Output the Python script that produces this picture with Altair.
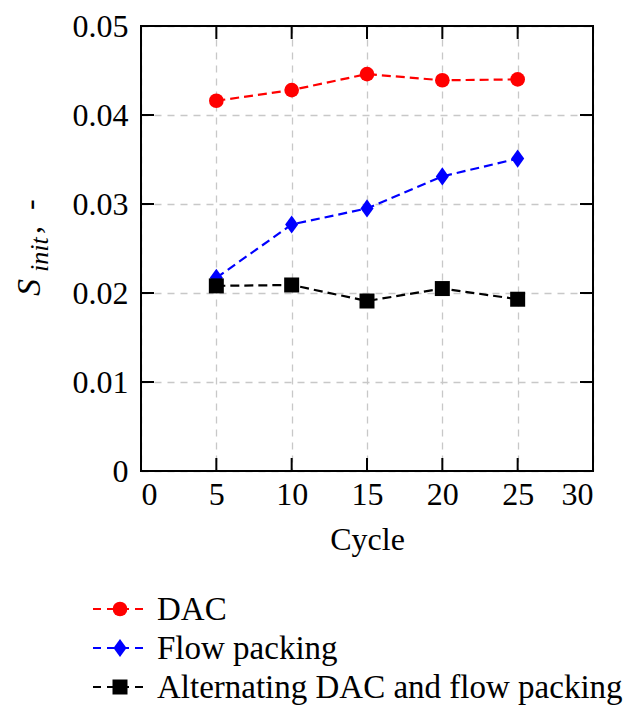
import altair as alt
import pandas as pd

# ---- data ----
cycles = [5, 10, 15, 20, 25]
series_names = ["DAC", "Flow packing", "Alternating DAC and flow packing"]
dac = [0.0416, 0.0428, 0.0446, 0.0439, 0.0440]
flow = [0.0217, 0.0277, 0.0295, 0.0331, 0.0351]
alternating = [0.0208, 0.0209, 0.0191, 0.0205, 0.0193]
x_ticks = [0, 5, 10, 15, 20, 25, 30]
y_ticks = [0, 0.01, 0.02, 0.03, 0.04, 0.05]

colors = ["#ff0000", "#0000ff", "#000000"]
shapes = ["circle", "M0,-1L0.72,0L0,1L-0.72,0Z", "square"]
sizes = [215, 330, 225]

FONT = "Liberation Serif"
W, H = 452, 445
TOP = 18

df = pd.concat([
    pd.DataFrame({"cycle": cycles, "value": vals, "series": name})
    for name, vals in zip(series_names, [dac, flow, alternating])
])

xs = alt.Scale(domain=[0, 30], nice=False)
ys = alt.Scale(domain=[0, 0.05], nice=False)

x_axis = alt.Axis(values=x_ticks, title="Cycle", labelFont=FONT, labelFontSize=32,
                  titleFont=FONT, titleFontSize=32, titleFontWeight="normal",
                  labelColor="black", titleColor="black", ticks=False, tickSize=0,
                  domain=False, labelPadding=8, titlePadding=14,
                  gridColor="#c8c8c8", gridDash=[7, 6], gridWidth=1.3)
y_axis = alt.Axis(values=y_ticks, title=None, labelFont=FONT, labelFontSize=32,
                  labelColor="black", ticks=False, tickSize=0, domain=False,
                  labelPadding=13,
                  labelExpr="datum.value == 0 ? '0' : format(datum.value, '.2f')",
                  gridColor="#c8c8c8", gridDash=[7, 6], gridWidth=1.3)

base = alt.Chart(df)
grid_layer = base.mark_point(opacity=0).encode(
    x=alt.X("cycle:Q", scale=xs, axis=x_axis),
    y=alt.Y("value:Q", scale=ys, axis=y_axis),
)

layers = [grid_layer]

# inward ticks on all four sides
xt = pd.DataFrame({"v": x_ticks[1:-1]})
yt = pd.DataFrame({"v": y_ticks[1:-1]})
TL = 13
layers += [
    alt.Chart(xt).mark_rule(color="black", strokeWidth=2).encode(
        x=alt.X("v:Q", scale=xs), y=alt.value(H), y2=alt.value(H - TL)),
    alt.Chart(xt).mark_rule(color="black", strokeWidth=2).encode(
        x=alt.X("v:Q", scale=xs), y=alt.value(0), y2=alt.value(TL)),
    alt.Chart(yt).mark_rule(color="black", strokeWidth=2).encode(
        y=alt.Y("v:Q", scale=ys), x=alt.value(0), x2=alt.value(TL)),
    alt.Chart(yt).mark_rule(color="black", strokeWidth=2).encode(
        y=alt.Y("v:Q", scale=ys), x=alt.value(W), x2=alt.value(W - TL)),
]

# frame on top of the grid
one = pd.DataFrame({"k": [0]})
layers += [
    alt.Chart(one).mark_rule(color="black", strokeWidth=2).encode(
        x=alt.value(-1), x2=alt.value(W + 1), y=alt.value(0)),
    alt.Chart(one).mark_rule(color="black", strokeWidth=2).encode(
        x=alt.value(-1), x2=alt.value(W + 1), y=alt.value(H)),
    alt.Chart(one).mark_rule(color="black", strokeWidth=2).encode(
        y=alt.value(-1), y2=alt.value(H + 1), x=alt.value(0)),
    alt.Chart(one).mark_rule(color="black", strokeWidth=2).encode(
        y=alt.value(-1), y2=alt.value(H + 1), x=alt.value(W)),
]

for i, name in enumerate(series_names):
    sub = base.transform_filter(alt.datum.series == name)
    layers.append(sub.mark_line(color=colors[i], strokeDash=[9, 5], strokeWidth=2.2).encode(
        x=alt.X("cycle:Q", scale=xs), y=alt.Y("value:Q", scale=ys)))
    layers.append(sub.mark_point(color=colors[i], filled=True, opacity=1, shape=shapes[i],
                                 size=sizes[i]).encode(
        x=alt.X("cycle:Q", scale=xs), y=alt.Y("value:Q", scale=ys)))

# manual legend below the plot
for i, name in enumerate(series_names):
    ld = pd.DataFrame({"label": [name]})
    yy = 583 + 39 * i
    c = alt.Chart(ld)
    layers.append(c.mark_rule(color=colors[i], strokeDash=[8, 6], strokeWidth=2).encode(
        x=alt.value(-48), x2=alt.value(6), y=alt.value(yy)))
    layers.append(c.mark_point(color=colors[i], filled=True, opacity=1, shape=shapes[i],
                               size=sizes[i]).encode(x=alt.value(-21), y=alt.value(yy)))
    layers.append(c.mark_text(align="left", baseline="alphabetic", font=FONT, fontSize=33,
                              color="black").encode(
        x=alt.value(16), y=alt.value(yy + 11), text="label:N"))

# y-axis title  S_init, -
tparts = [
    ("S", -101, 270, 34, "italic"),
    ("init", -93, 246, 26, "italic"),
    (",", -101, 208, 32, "normal"),
    ("-", -101, 184, 32, "normal"),
]
for txt, tx, ty, fs, st in tparts:
    layers.append(alt.Chart(pd.DataFrame({"t": [txt]})).mark_text(
        align="left", baseline="alphabetic", angle=270, font=FONT, fontSize=fs,
        fontStyle=st, color="black").encode(x=alt.value(tx), y=alt.value(ty), text="t:N"))

chart = alt.layer(*layers).properties(
    width=W, height=H,
    autosize=alt.AutoSizeParams(type="none"),
    padding={"left": 133, "top": TOP, "right": 35, "bottom": 697 - TOP - H},
).configure_view(stroke=None)

chart.save("out.html", embed_options={"renderer": "svg", "actions": False})
